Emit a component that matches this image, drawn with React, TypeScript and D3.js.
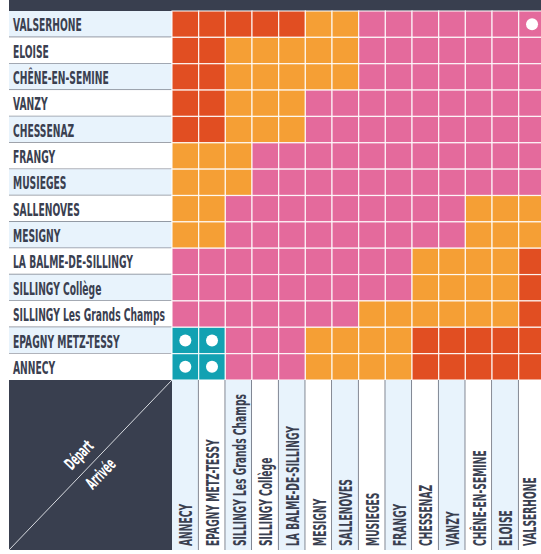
import { useEffect, useRef } from 'react';
import * as d3 from 'd3';

// departures (rows, top to bottom)
const departs = [
  'VALSERHONE',
  'ELOISE',
  'CHÊNE-EN-SEMINE',
  'VANZY',
  'CHESSENAZ',
  'FRANGY',
  'MUSIEGES',
  'SALLENOVES',
  'MESIGNY',
  'LA BALME-DE-SILLINGY',
  'SILLINGY Collège',
  'SILLINGY Les Grands Champs',
  'EPAGNY METZ-TESSY',
  'ANNECY',
];

// arrivals (columns, left to right)
const arrivees = [
  'ANNECY',
  'EPAGNY METZ-TESSY',
  'SILLINGY Les Grands Champs',
  'SILLINGY Collège',
  'LA BALME-DE-SILLINGY',
  'MESIGNY',
  'SALLENOVES',
  'MUSIEGES',
  'FRANGY',
  'CHESSENAZ',
  'VANZY',
  'CHÊNE-EN-SEMINE',
  'ELOISE',
  'VALSERHONE',
];

// fare zone per cell: T = urbain, P, O, R
const zones = [
  'RRRRROOPPPPPPP',
  'RROOOOOPPPPPPP',
  'RROOOOOPPPPPPP',
  'RROOOPPPPPPPPP',
  'RROOOPPPPPPPPP',
  'OOOPPPPPPPPPPP',
  'OOOPPPPPPPPPPP',
  'OOPPPPPPPPPOOO',
  'OOPPPPPPPPPOOO',
  'PPPPPPPPPOOOOR',
  'PPPPPPPPPOOOOR',
  'PPPPPPPOOOOOOR',
  'TTPPPOOOORRRRR',
  'TTPPPOOOORRRRR',
];

// cells with a white dot [depart, arrivee]
const dots: [string, string][] = [
  ['VALSERHONE', 'VALSERHONE'],
  ['EPAGNY METZ-TESSY', 'ANNECY'],
  ['EPAGNY METZ-TESSY', 'EPAGNY METZ-TESSY'],
  ['ANNECY', 'ANNECY'],
  ['ANNECY', 'EPAGNY METZ-TESSY'],
];

const zoneColors: Record<string, string> = {
  T: '#12a1b2',
  P: '#e46a9c',
  O: '#f59f35',
  R: '#e14e22',
};

const DARK = '#393f4f';
const LIGHT = '#e8f3fc';
const INK = '#3a4050';
const FONT = '"DejaVu Sans Condensed", "DejaVu Sans", sans-serif';
const FONT_SIZE = 18.5;

export default function App() {
  const svgRef = useRef<SVGSVGElement>(null);
  const width = 541;
  const height = 554;

  useEffect(() => {
    if (!svgRef.current) return;
    const svg = d3.select(svgRef.current);
    svg.selectAll('*').remove();

    const left = 9;
    const gridX = 172;
    const gridTop = 11;
    const gridBottom = 380;
    const labelBottom = 550;
    const colStep = 26.67;

    const x = d3.scaleBand<string>()
      .domain(arrivees)
      .range([gridX, gridX + colStep * arrivees.length])
      .padding(0);
    const y = d3.scaleBand<string>()
      .domain(departs)
      .range([gridTop, gridBottom])
      .padding(0);

    const styleText = (t: d3.Selection<SVGTextElement, unknown, null, undefined>, size: number) =>
      t.style('font-family', FONT)
        .style('font-weight', 700)
        .style('font-stretch', 'condensed')
        .style('font-size', `${size}px`);

    // squeeze the font to the narrow face of the original
    const probe = styleText(svg.append('text'), FONT_SIZE).text('LA BALME-DE-SILLINGY');
    const w1 = (probe.node() as SVGTextElement).getComputedTextLength();
    probe.text('SILLINGY Les Grands Champs');
    const w2 = (probe.node() as SVGTextElement).getComputedTextLength();
    probe.remove();
    const k = Math.min(137 / w1, 152 / w2);

    // top bar
    svg.append('rect')
      .attr('x', left).attr('y', 0)
      .attr('width', width - left).attr('height', gridTop)
      .attr('fill', DARK);

    // row labels
    const rows = svg.append('g');
    departs.forEach((d, i) => {
      rows.append('rect')
        .attr('x', left).attr('y', y(d)!)
        .attr('width', gridX - left).attr('height', y.bandwidth())
        .attr('fill', i % 2 === 0 ? LIGHT : '#ffffff');
      if (i < departs.length - 1) {
        rows.append('line')
          .attr('x1', left).attr('x2', gridX)
          .attr('y1', y(d)! + y.bandwidth()).attr('y2', y(d)! + y.bandwidth())
          .attr('stroke', '#858a95').attr('stroke-width', 1.5);
      }
      styleText(rows.append('text'), FONT_SIZE)
        .attr('transform', `translate(13,${y(d)! + y.bandwidth() / 2}) scale(${k},1)`)
        .attr('dy', '0.38em')
        .attr('fill', INK)
        .text(d);
    });

    // cells
    const cells = svg.append('g');
    departs.forEach((d, i) => {
      zones[i].split('').forEach((z, j) => {
        cells.append('rect')
          .attr('x', x(arrivees[j])!)
          .attr('y', y(d)!)
          .attr('width', x.bandwidth())
          .attr('height', y.bandwidth())
          .attr('fill', zoneColors[z])
          .attr('stroke', 'rgba(255,255,255,0.85)')
          .attr('stroke-width', 1.2);
      });
    });

    dots.forEach(([d, a]) => {
      cells.append('circle')
        .attr('cx', x(a)! + x.bandwidth() / 2)
        .attr('cy', y(d)! + y.bandwidth() / 2)
        .attr('r', 6)
        .attr('fill', '#ffffff');
    });

    // column labels
    const cols = svg.append('g');
    arrivees.forEach((a, j) => {
      cols.append('rect')
        .attr('x', x(a)!).attr('y', gridBottom)
        .attr('width', x.bandwidth()).attr('height', labelBottom - gridBottom)
        .attr('fill', j % 2 === 0 ? LIGHT : '#ffffff');
      cols.append('line')
        .attr('x1', x(a)! + x.bandwidth()).attr('x2', x(a)! + x.bandwidth())
        .attr('y1', gridBottom).attr('y2', labelBottom)
        .attr('stroke', '#5d6270').attr('stroke-width', 1.5);
      // last column is cropped by the frame: keep its label inside
      const cx = Math.min(x(a)! + x.bandwidth() / 2, width - 12);
      styleText(cols.append('text'), FONT_SIZE)
        .attr('transform', `translate(${cx},546) rotate(-90) scale(${k},1)`)
        .attr('dy', '0.37em')
        .attr('fill', INK)
        .text(a);
    });

    // corner block
    const corner = svg.append('g');
    corner.append('rect')
      .attr('x', left).attr('y', gridBottom)
      .attr('width', gridX - left).attr('height', labelBottom - gridBottom)
      .attr('fill', DARK);
    corner.append('line')
      .attr('x1', left).attr('y1', labelBottom)
      .attr('x2', gridX).attr('y2', gridBottom)
      .attr('stroke', '#d8dbe0').attr('stroke-width', 1);
    const ang = Math.atan2(gridBottom - labelBottom, gridX - left) * 180 / Math.PI;
    const mx = (left + gridX) / 2;
    const my = (gridBottom + labelBottom) / 2;
    styleText(corner.append('text'), 17)
      .attr('transform', `translate(${mx - 3},${my - 2}) rotate(${ang}) scale(${k},1)`)
      .attr('y', -6)
      .attr('text-anchor', 'middle')
      .attr('fill', '#ffffff')
      .text('Départ');
    styleText(corner.append('text'), 17)
      .attr('transform', `translate(${mx + 2},${my + 1}) rotate(${ang}) scale(${k},1)`)
      .attr('y', 17)
      .attr('text-anchor', 'middle')
      .attr('fill', '#ffffff')
      .text('Arrivée');
  }, []);

  return (
    <svg
      ref={svgRef}
      width={width}
      height={height}
      style={{ position: 'absolute', left: 0, top: 0, background: '#ffffff' }}
    />
  );
}
